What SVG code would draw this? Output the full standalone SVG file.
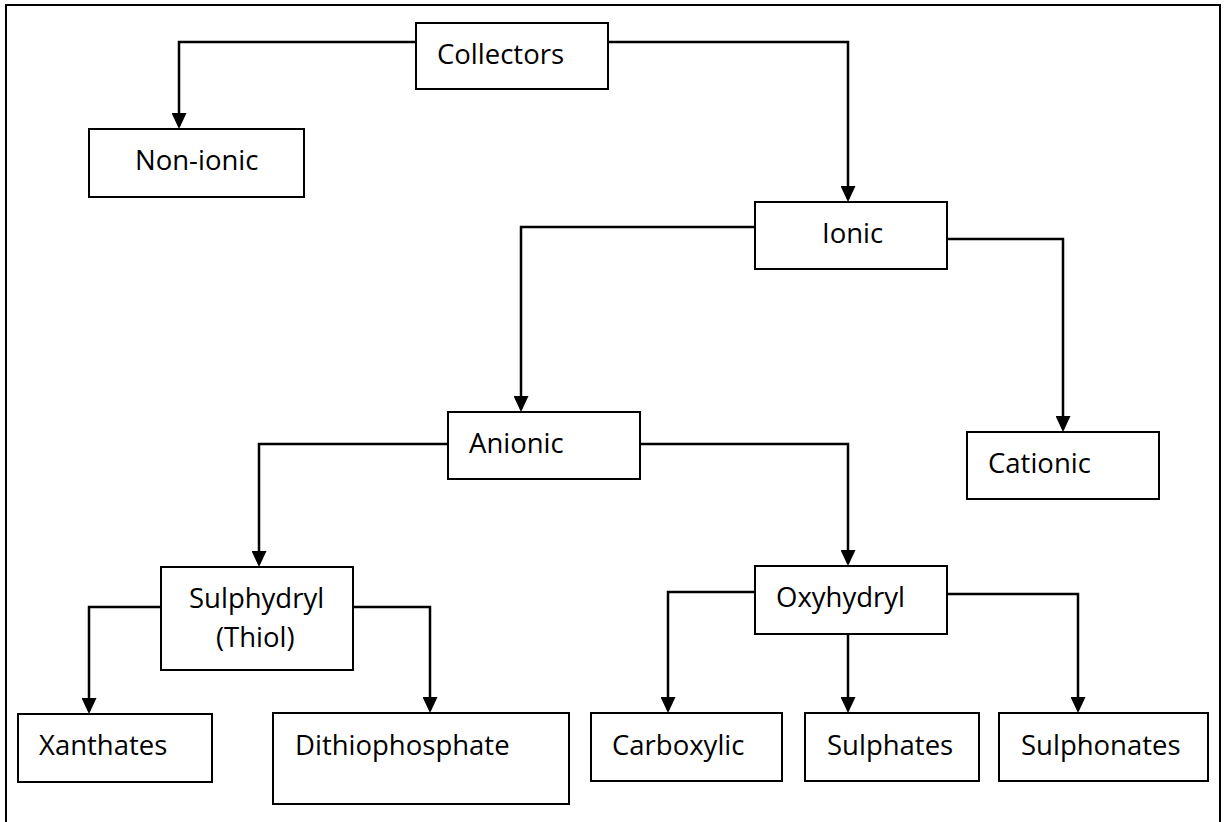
<svg xmlns="http://www.w3.org/2000/svg" width="1224" height="822" viewBox="0 0 1224 822">
<defs>
<style>
.box{fill:#fff;stroke:#000;stroke-width:2}
.lbl{font-family:"Open Sans","Liberation Sans",sans-serif;font-size:27.5px;fill:#000}
.conn{fill:none;stroke:#000;stroke-width:2.5}
.frame{fill:none;stroke:#000;stroke-width:2}
</style>
<marker id="arr" markerUnits="userSpaceOnUse" markerWidth="16" markerHeight="15" refX="13" refY="7.5" orient="auto" viewBox="0 0 16 15">
<path d="M0,0 L16,7.5 L0,15 z" fill="#000"/>
</marker>
</defs>
<rect width="1224" height="822" fill="#fff"/>
<path class="frame" d="M6,830 L6,5 L1220,5 L1220,830"/>
<g id="connectors">
<path class="conn" marker-end="url(#arr)" d="M416,42 H179 V126"/>
<path class="conn" marker-end="url(#arr)" d="M608,42 H848 V199"/>
<path class="conn" marker-end="url(#arr)" d="M755,227 H521 V409"/>
<path class="conn" marker-end="url(#arr)" d="M947,239 H1063 V429"/>
<path class="conn" marker-end="url(#arr)" d="M448,444 H259 V564"/>
<path class="conn" marker-end="url(#arr)" d="M640,444 H848 V563"/>
<path class="conn" marker-end="url(#arr)" d="M161,607 H89 V711"/>
<path class="conn" marker-end="url(#arr)" d="M353,607 H430 V710"/>
<path class="conn" marker-end="url(#arr)" d="M755,592 H668 V710"/>
<path class="conn" marker-end="url(#arr)" d="M848,634 V710"/>
<path class="conn" marker-end="url(#arr)" d="M947,594 H1078 V710"/>
</g>
<g id="collectors"><rect class="box" x="416" y="23" width="192" height="66"/><text class="lbl" x="437" y="64">Collectors</text></g>
<g id="nonionic"><rect class="box" x="89" y="129" width="215" height="68"/><text class="lbl" x="135" y="170">Non-ionic</text></g>
<g id="ionic"><rect class="box" x="755" y="202" width="192" height="67"/><text class="lbl" x="822" y="243">Ionic</text></g>
<g id="anionic"><rect class="box" x="448" y="412" width="192" height="67"/><text class="lbl" x="469" y="453">Anionic</text></g>
<g id="cationic"><rect class="box" x="967" y="432" width="192" height="67"/><text class="lbl" x="988" y="473">Cationic</text></g>
<g id="sulphydryl"><rect class="box" x="161" y="567" width="192" height="103"/><text class="lbl" x="189" y="608">Sulphydryl</text><text class="lbl" x="216" y="647">(Thiol)</text></g>
<g id="oxyhydryl"><rect class="box" x="755" y="566" width="192" height="68"/><text class="lbl" x="776" y="607">Oxyhydryl</text></g>
<g id="xanthates"><rect class="box" x="18" y="714" width="194" height="68"/><text class="lbl" x="39" y="755">Xanthates</text></g>
<g id="dithiophosphate"><rect class="box" x="273" y="713" width="296" height="91"/><text class="lbl" x="295" y="755">Dithiophosphate</text></g>
<g id="carboxylic"><rect class="box" x="591" y="713" width="191" height="68"/><text class="lbl" x="612" y="755">Carboxylic</text></g>
<g id="sulphates"><rect class="box" x="805" y="713" width="174" height="68"/><text class="lbl" x="827" y="755">Sulphates</text></g>
<g id="sulphonates"><rect class="box" x="999" y="713" width="209" height="68"/><text class="lbl" x="1021" y="755">Sulphonates</text></g>
</svg>
